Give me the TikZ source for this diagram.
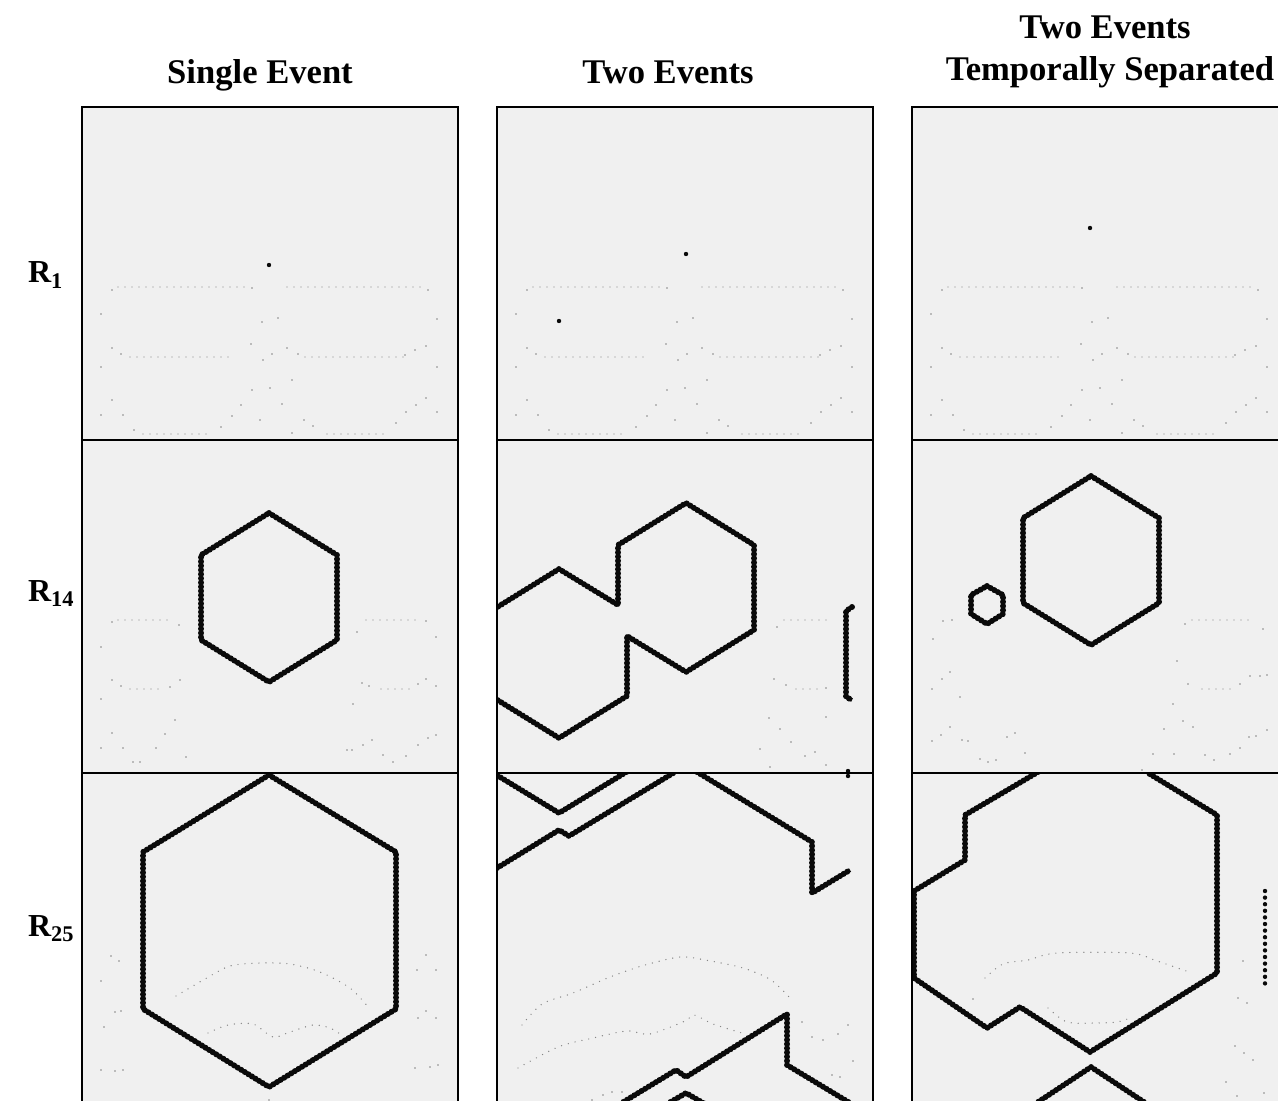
\documentclass[tikz,border=0pt]{standalone}
\usepackage{fontspec}
\setmainfont{Liberation Serif}
\definecolor{panelgray}{HTML}{F0F0F0}
\definecolor{speckgray}{HTML}{858585}
\definecolor{inkblack}{HTML}{0A0A0A}

% faint background pattern of the first row (column one coordinates)
\newcommand{\rowonedots}{%
  \draw[faint] (118,287) -- (246,287) (287,287) -- (422,287)
    (130,357) -- (232,357) (305,357) -- (407,357)
    (143,434) -- (213,434) (327,434) -- (388,434);
  \foreach \p in {(112,290),(252,288),(428,290),(101,314),(437,319),(262,322),
    (278,318),(112,348),(121,354),(251,344),(263,360),(272,354),(287,348),
    (298,354),(405,355),(415,350),(426,346),(101,367),(437,367),(112,400),
    (101,415),(123,415),(134,430),(221,427),(232,416),(241,405),(252,390),
    (270,388),(282,404),(292,380),(260,420),(304,420),(313,426),(292,433),
    (396,423),(406,412),(416,405),(426,398),(437,412)}
    \fill[speck] \p circle (0.4pt);
}

\begin{document}
\begin{tikzpicture}[x=0.5pt,y=-0.5pt,
  panel/.style={fill=panelgray},
  frame/.style={draw=black,line width=1.1pt},
  front/.style={draw=inkblack,line width=2pt,line join=round,
    postaction={draw=inkblack,line width=3pt,line cap=round,dash pattern=on 0pt off 2.1pt}},
  faint/.style={draw=speckgray,line width=0.7pt,line cap=round,dash pattern=on 0pt off 3.5pt},
  speck/.style={fill=speckgray},
  title/.style={font=\bfseries\fontsize{17.3}{21}\selectfont,anchor=base},
  rowlabel/.style={font=\bfseries\fontsize{16}{19}\selectfont,anchor=base west}]

\useasboundingbox (0,0) rectangle (1278,1101);
\clip (0,0) rectangle (1278,1101);

% column titles
\node[title] (tsingle) at (260,84) {Single Event};
\node[title] (ttwo) at (668,84) {Two Events};
\node[title] (tsepa) at (1105,39) {Two Events};
\node[title] (tsepb) at (1110,81) {Temporally Separated};

% row labels
\node[rowlabel] (rone) at (21,283) {R\textsubscript{1}};
\node[rowlabel] (rfourteen) at (21,601) {R\textsubscript{14}};
\node[rowlabel] (rtwentyfive) at (21,936) {R\textsubscript{25}};

% panel backgrounds
\foreach \c in {0,1,2}
  \foreach \r in {0,1,2}
    \fill[panel] (82+415*\c,107+333*\r) rectangle ++(376,333);

% ---- row R1
\begin{scope}
  \clip (82,107) rectangle ++(376,333);
  \rowonedots
  \fill[inkblack] (269,265) circle (1.1pt);
\end{scope}
\begin{scope}
  \clip (497,107) rectangle ++(376,333);
  \begin{scope}[shift={(415,0)}] \rowonedots \end{scope}
  \fill[inkblack] (686,254) circle (1.1pt);
  \fill[inkblack] (559,321) circle (1.1pt);
\end{scope}
\begin{scope}
  \clip (912,107) rectangle ++(376,333);
  \begin{scope}[shift={(830,0)}] \rowonedots \end{scope}
  \fill[inkblack] (1090,228) circle (1.1pt);
\end{scope}

% ---- row R14
\begin{scope}
  \clip (82,440) rectangle ++(376,333);
  \draw[faint] (118,620) -- (170,620) (366,620) -- (418,620)
    (130,689) -- (160,689) (381,689) -- (410,689);
  \foreach \p in {(112,622),(179,625),(101,647),(426,621),(436,637),(357,632),
    (112,680),(121,686),(170,687),(180,680),(101,699),(362,683),(369,686),
    (418,684),(426,679),(436,686),(353,704),(112,733),(101,748),(123,748),
    (133,762),(140,762),(156,748),(165,734),(175,720),(186,757),(347,750),
    (352,750),(363,745),(372,740),(383,755),(393,762),(406,756),(418,745),
    (428,738),(436,735)}
    \fill[speck] \p circle (0.4pt);
  \draw[front] (269,513) -- (337,555) -- (337,640) -- (269,682)
    -- (201,640) -- (201,555) -- cycle;
\end{scope}
\begin{scope}
  \clip (497,440) rectangle ++(376,333);
  \draw[faint] (784,620) -- (829,620) (796,689) -- (820,689);
  \foreach \p in {(777,627),(774,679),(786,685),(826,688),(769,718),(780,729),
    (791,742),(760,749),(805,756),(815,752),(826,765),(770,767),(826,717)}
    \fill[speck] \p circle (0.4pt);
  % colliding fronts of the two events
  \draw[front] (491,611) -- (559,569) -- (618,605) -- (618,545) -- (686,503)
    -- (754,545) -- (754,630) -- (686,672) -- (627,636) -- (627,696)
    -- (559,738) -- (491,696);
  \draw[front] (852,607) -- (846,611) -- (846,697) -- (852,700);
  \fill[inkblack] (848,771) circle (1.1pt);
\end{scope}
\begin{scope}
  \clip (912,440) rectangle ++(376,333);
  \draw[faint] (1192,620) -- (1253,620) (1202,689) -- (1232,689);
  \foreach \p in {(943,621),(952,620),(933,639),(950,672),(942,679),(932,689),
    (960,697),(950,727),(941,735),(932,741),(962,740),(968,741),(1007,737),
    (1015,733),(1025,753),(980,759),(988,762),(996,760),(1185,624),(1263,629),
    (1177,661),(1188,684),(1240,684),(1250,676),(1260,676),(1267,675),
    (1173,704),(1183,721),(1193,727),(1164,729),(1205,755),(1214,760),
    (1230,754),(1240,748),(1249,737),(1256,736),(1267,730),(1153,754),
    (1174,754),(1142,770)}
    \fill[speck] \p circle (0.4pt);
  \draw[front] (1091,476) -- (1159,518) -- (1159,603) -- (1091,645)
    -- (1023,603) -- (1023,518) -- cycle;
  \draw[front] (987,586) -- (1003,595) -- (1003,614) -- (987,624)
    -- (971,614) -- (971,595) -- cycle;
\end{scope}

% ---- row R25
\begin{scope}
  \clip (82,773) rectangle ++(376,333);
  \draw[faint] plot[smooth] coordinates {(176,996) (205,979) (230,966) (260,963)
    (290,964) (320,972) (350,988) (369,1008)};
  \draw[faint] plot[smooth] coordinates {(208,1033) (228,1025) (253,1024)
    (273,1037) (290,1032) (313,1025) (330,1028) (340,1034)};
  \foreach \p in {(111,956),(119,961),(101,981),(115,1012),(121,1011),(104,1027),
    (101,1070),(115,1071),(123,1070),(426,955),(417,970),(436,970),(418,1018),
    (426,1011),(436,1018),(415,1068),(430,1067),(438,1065),(269,1100)}
    \fill[speck] \p circle (0.4pt);
  \draw[front] (269,775) -- (396,852) -- (396,1009) -- (269,1087)
    -- (143,1009) -- (143,852) -- cycle;
\end{scope}
\begin{scope}
  \clip (497,773) rectangle ++(376,333);
  \draw[faint] plot[smooth] coordinates {(522,1025) (542,1004) (573,993)
    (610,977) (645,965) (680,957) (705,960) (743,968) (771,980) (791,999)};
  \draw[faint] plot[smooth] coordinates {(518,1068) (558,1047) (593,1038)
    (627,1031) (650,1034) (685,1021) (694,1015) (713,1024) (742,1033)};
  \foreach \p in {(802,1022),(812,1037),(823,1040),(838,1034),(848,1025),
    (853,1061),(832,1075),(840,1077),(592,1100),(603,1095),(612,1092),(622,1092)}
    \fill[speck] \p circle (0.4pt);
  \draw[front] (490,771) -- (559,813) -- (628,771);
  \draw[front] (497,868) -- (559,830) -- (569,836) -- (675,772);
  \draw[front] (697,772) -- (812,842) -- (812,893) -- (850,870);
  \draw[front] (620,1104) -- (676,1070) -- (686,1077) -- (787,1014)
    -- (787,1065) -- (850,1103);
  \draw[front] (667,1104) -- (686,1093) -- (705,1104);
  \fill[inkblack] (848,776) circle (1.1pt);
\end{scope}
\begin{scope}
  \clip (912,773) rectangle ++(376,333);
  \draw[faint] plot[smooth] coordinates {(985,978) (1003,964) (1028,960)
    (1057,953) (1130,953) (1157,961) (1189,972)};
  \draw[faint] plot[smooth] coordinates {(1048,1008) (1067,1022) (1095,1023)
    (1117,1022) (1133,1017)};
  \foreach \p in {(973,999),(1243,961),(1238,998),(1247,1003),(1235,1046),
    (1244,1053),(1253,1060),(1226,1082),(1237,1096),(1264,1093)}
    \fill[speck] \p circle (0.4pt);
  \draw[front] (1038,772) -- (965,815) -- (965,860) -- (914,891) -- (914,978)
    -- (987,1028) -- (1020,1007) -- (1090,1052) -- (1217,973) -- (1217,815)
    -- (1148,773);
  \draw[front] (1035,1104) -- (1091,1067) -- (1147,1104);
  \foreach \k in {0,...,14}
    \fill[inkblack] (1265,891+6.6*\k) circle (1.1pt);
\end{scope}

% panel frames
\foreach \c in {0,1,2}
  \foreach \r in {0,1,2}
    \draw[frame] (82+415*\c,107+333*\r) rectangle ++(376,333);

\end{tikzpicture}
\end{document}
